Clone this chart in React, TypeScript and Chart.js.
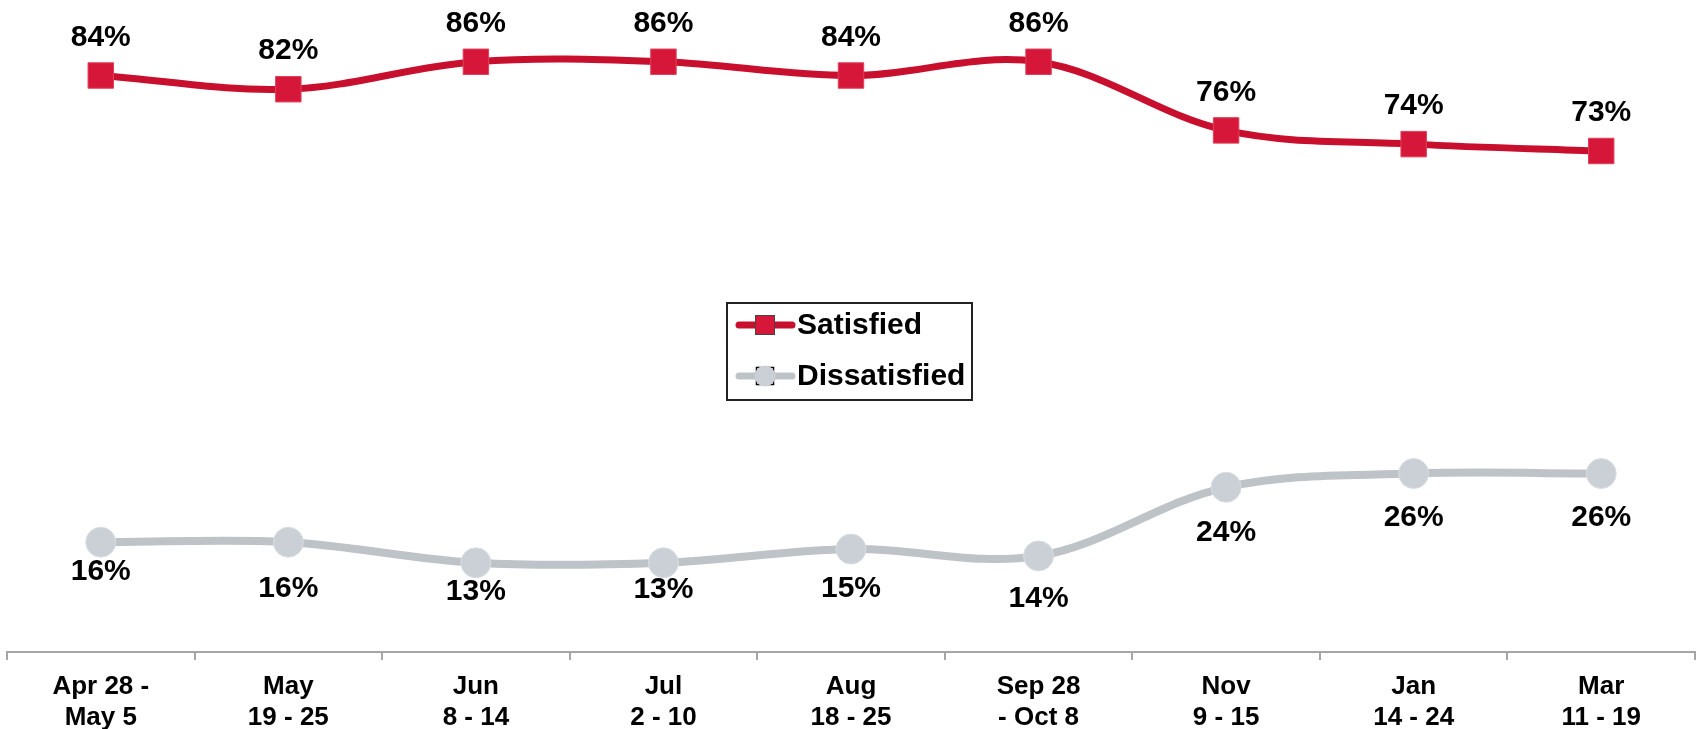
import React, { useEffect, useRef } from "react";
import { Chart, registerables } from "chart.js";

Chart.register(...registerables);

const categories: string[][] = [
  ["Apr 28 -", "May 5"],
  ["May", "19 - 25"],
  ["Jun", "8 - 14"],
  ["Jul", "2 - 10"],
  ["Aug", "18 - 25"],
  ["Sep 28", "- Oct 8"],
  ["Nov", "9 - 15"],
  ["Jan", "14 - 24"],
  ["Mar", "11 - 19"],
];
const satisfied: number[] = [84, 82, 86, 86, 84, 86, 76, 74, 73];
const dissatisfied: number[] = [16, 16, 13, 13, 15, 14, 24, 26, 26];

const FONT = "'Liberation Sans', Arial, sans-serif";
const RED_LINE = "#C8102E";
const RED_MARK = "#D6173A";
const GRAY_LINE = "#BEC3C8";
const GRAY_MARK = "#CAD0D6";

// label gaps (px below the point) for the dissatisfied series
const dissLabelGap = [30, 47, 29, 27, 40, 43, 45, 44, 44];

const labelPlugin = {
  id: "pctLabels",
  afterDatasetsDraw(chart: any) {
    const ctx = chart.ctx;
    ctx.save();
    ctx.fillStyle = "#000";
    ctx.textAlign = "center";
    ctx.textBaseline = "middle";
    ctx.font = `bold 30px ${FONT}`;
    const m0 = chart.getDatasetMeta(0);
    m0.data.forEach((pt: any, i: number) => {
      ctx.fillText(`${satisfied[i]}%`, pt.x, pt.y - 38);
    });
    const m1 = chart.getDatasetMeta(1);
    m1.data.forEach((pt: any, i: number) => {
      ctx.fillText(`${dissatisfied[i]}%`, pt.x, pt.y + dissLabelGap[i]);
    });
    ctx.restore();
  },
};

const legendPlugin = {
  id: "boxLegend",
  afterDraw(chart: any) {
    const ctx = chart.ctx;
    ctx.save();
    const bx = 727, by = 303, bw = 245, bh = 97;
    ctx.strokeStyle = "#222";
    ctx.lineWidth = 2;
    ctx.strokeRect(bx, by, bw, bh);
    const rows = [
      { y: 325, label: "Satisfied", line: RED_LINE, kind: "rect" },
      { y: 376, label: "Dissatisfied", line: GRAY_LINE, kind: "circle" },
    ];
    rows.forEach((r) => {
      ctx.strokeStyle = r.line;
      ctx.lineWidth = 7;
      ctx.lineCap = "round";
      ctx.beginPath();
      ctx.moveTo(739, r.y);
      ctx.lineTo(792, r.y);
      ctx.stroke();
      if (r.kind === "rect") {
        ctx.fillStyle = RED_MARK;
        ctx.fillRect(755, r.y - 10, 20, 20);
        ctx.strokeStyle = "#444";
        ctx.lineWidth = 1;
        ctx.strokeRect(755.5, r.y - 9.5, 19, 19);
      } else {
        ctx.fillStyle = "#fff";
        ctx.fillRect(756, r.y - 9, 18, 18);
        ctx.strokeStyle = "#000";
        ctx.lineWidth = 1.5;
        ctx.strokeRect(756.5, r.y - 8.5, 17, 17);
        ctx.fillStyle = GRAY_MARK;
        ctx.beginPath();
        ctx.arc(765, r.y, 10.5, 0, Math.PI * 2);
        ctx.fill();
      }
      ctx.fillStyle = "#000";
      ctx.font = `bold 30px ${FONT}`;
      ctx.textAlign = "left";
      ctx.textBaseline = "middle";
      ctx.fillText(r.label, 797, r.y + 1);
    });
    ctx.restore();
  },
};

export default function App() {
  const ref = useRef<HTMLCanvasElement | null>(null);
  useEffect(() => {
    if (!ref.current) return;
    const chart = new Chart(ref.current, {
      type: "line",
      data: {
        labels: categories,
        datasets: [
          {
            label: "Satisfied",
            data: satisfied,
            borderColor: RED_LINE,
            borderWidth: 7,
            pointStyle: "rect",
            pointRadius: 18,
            pointBackgroundColor: RED_MARK,
            pointBorderColor: "#E0405A",
            pointBorderWidth: 1,
            tension: 0.35,
            cubicInterpolationMode: "default",
          },
          {
            label: "Dissatisfied",
            data: dissatisfied,
            borderColor: GRAY_LINE,
            borderWidth: 8,
            pointStyle: "circle",
            pointRadius: 15,
            pointBackgroundColor: GRAY_MARK,
            pointBorderColor: "#D9DEE3",
            pointBorderWidth: 1,
            tension: 0.35,
            cubicInterpolationMode: "default",
          },
        ],
      },
      options: {
        animation: false,
        responsive: false,
        maintainAspectRatio: false,
        layout: { autoPadding: false, padding: { left: 7, right: 8, top: 0, bottom: 0 } },
        plugins: { legend: { display: false }, tooltip: { enabled: false } },
        scales: {
          x: {
            offset: true,
            grid: {
              offset: true,
              drawOnChartArea: false,
              drawTicks: true,
              tickLength: 8,
              color: "#A6A6A6",
              lineWidth: 2,
            },
            border: { display: true, color: "#A6A6A6", width: 2 },
            ticks: {
              color: "#000",
              font: { family: FONT, size: 26, weight: "bold", lineHeight: 1.2 },
              padding: 11,
              maxRotation: 0,
              autoSkip: false,
            },
            afterFit: (scale: any) => {
              scale.height = 77;
            },
          },
          y: {
            display: false,
            min: 0,
            max: 95,
          },
        },
      },
      plugins: [labelPlugin, legendPlugin],
    } as any);
    return () => chart.destroy();
  }, []);
  return (
    <div style={{ position: "fixed", left: 0, top: 0, width: 1703, height: 729, background: "#fff" }}>
      <canvas ref={ref} width={1703} height={729} style={{ display: "block", width: 1703, height: 729 }} />
    </div>
  );
}
